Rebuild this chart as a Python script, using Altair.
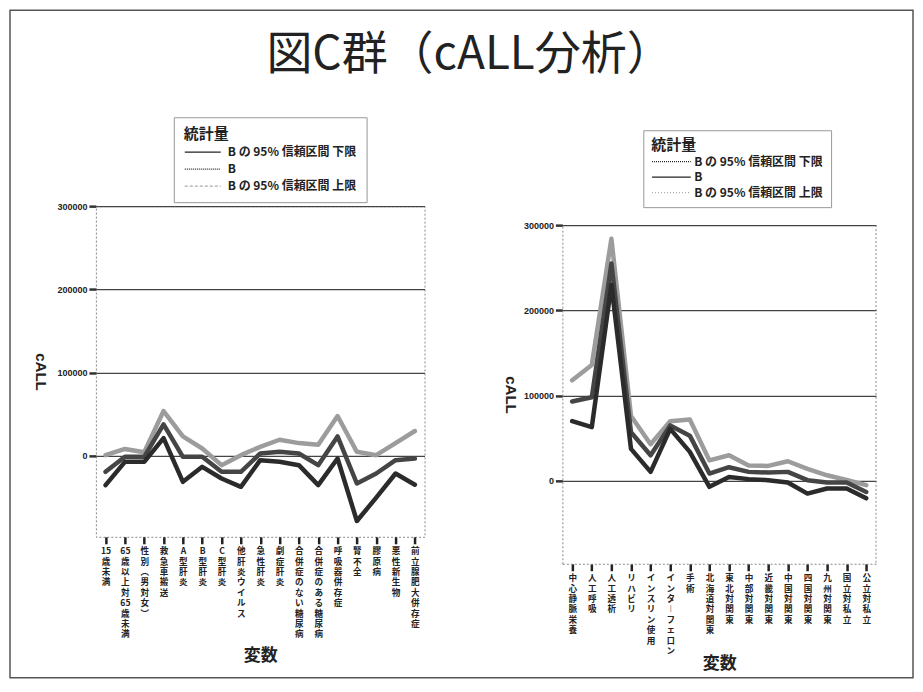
import altair as alt
import pandas as pd

TITLE = "図C群（cALL分析）"
LEGEND_TITLE = "統計量"
SERIES = ["B の 95% 信頼区間 下限", "B", "B の 95% 信頼区間 上限"]
X_TITLE = "変数"
Y_TITLE = "cALL"
Y_TICKS = [0, 100000, 200000, 300000]

L_CATS = ["15歳未満", "65歳以上対65歳未満", "性別(男対女)", "救急車搬送", "A型肝炎", "B型肝炎",
          "C型肝炎", "他肝炎ウイルス", "急性肝炎", "劇症肝炎", "合併症のない糖尿病",
          "合併症のある糖尿病", "呼吸器併存症", "腎不全", "膠原病", "悪性新生物", "前立腺肥大併存症"]
L_LOW = [-35000, -7000, -7000, 21500, -31000, -13000, -27000, -37000, -5000, -7000, -11000,
         -35000, -3000, -78000, -50000, -21000, -34500]
L_B = [-19000, -1000, -1000, 38000, -1000, -1000, -19000, -19000, 3000, 5000, 3000,
       -11000, 23500, -33000, -21000, -5000, -3000]
L_UP = [1000, 8500, 4500, 54000, 23500, 9000, -11000, 1000, 11000, 19500, 15500,
        13500, 48000, 5000, 1000, 15500, 30000]

R_CATS = ["中心静脈栄養", "人工呼吸", "人工透析", "リハビリ", "インスリン使用", "インターフェロン",
          "手術", "北海道対関東", "東北対関東", "中部対関東", "近畿対関東", "中国対関東",
          "四国対関東", "九州対関東", "国立対私立", "公立対私立"]
R_LOW = [70000, 63000, 230000, 37500, 10500, 61000, 34000, -7000, 4600, 2000, 800, -2000,
         -15000, -9000, -9000, -20500]
R_B = [93000, 98000, 255000, 57000, 30000, 65000, 53000, 8500, 16000, 10500, 9700, 10500,
       800, -2000, -2000, -13000]
R_UP = [118000, 136000, 284000, 76000, 43000, 70000, 72000, 24000, 30000, 18000, 17500, 23000,
        14000, 6500, 1000, -5000]

JP = "Noto Sans CJK JP"
NUM = "Liberation Sans"
LINE_COLORS = {SERIES[0]: "#2b2b2b", SERIES[1]: "#454545", SERIES[2]: "#9c9c9c"}

LABEL_EXPR = ("slice(split(replace(replace(replace(replace(datum.label, '(', '︵'), ')', '︶'), "
              "'ー', '︱'), regexp('([0-9]+|.)', 'g'), '$1|'), '|'), 0, -1)")


def table(cats, low, b, up):
    rows = []
    for s, vals in zip(SERIES, [low, b, up]):
        for c, v in zip(cats, vals):
            rows.append({"var": c, "series": s, "value": v})
    return pd.DataFrame(rows)


def x_enc(cats, domain_line, xtpad):
    return alt.X("var:N", sort=cats, scale=alt.Scale(type="point", padding=0.5),
                 axis=alt.Axis(title=X_TITLE, labelAngle=0, labelAlign="center", labelBaseline="top",
                               labelExpr=LABEL_EXPR, labelFont=JP, labelFontSize=8.6,
                               labelFontWeight="bold", labelColor="#222", labelLineHeight=10.4,
                               labelOverlap=False, labelPadding=3, tickSize=7, tickWidth=2.5,
                               tickColor="#222", domain=domain_line, domainColor="#888",
                               domainDash=[2, 2], titleFont=JP, titleFontSize=17,
                               titleFontWeight="bold", titleColor="#222", titlePadding=xtpad, grid=False))


def y_enc(scale, domain_line, tpad):
    return alt.Y("value:Q", scale=scale,
                 axis=alt.Axis(values=Y_TICKS, format="d", title=Y_TITLE, titleAngle=90, titleFont=NUM,
                               titleFontSize=15, titleFontWeight="bold", titleColor="#222",
                               titlePadding=tpad, labelFont=NUM, labelFontSize=9, labelFontWeight="bold",
                               labelColor="#222", labelPadding=2, tickSize=7, tickWidth=2.5,
                               tickColor="#333", domain=domain_line, domainColor="#888",
                               domainDash=[2, 2], grid=True, gridColor="#444", gridWidth=1.2,
                               gridOpacity=1))


def panel(cats, low, b, up, yscale, dash_range, lx, ly, sym_size, sym_path, label_off, pad,
          row_pad, domain_line, tpad, xtpad):
    df = table(cats, low, b, up)
    base = alt.Chart(df)
    layers = []
    for s in [SERIES[2], SERIES[1], SERIES[0]]:
        layers.append(base.transform_filter(alt.datum.series == s)
                      .mark_line(color=LINE_COLORS[s], strokeWidth=4.5, strokeJoin="round", strokeCap="round")
                      .encode(x=x_enc(cats, domain_line, xtpad), y=y_enc(yscale, domain_line, tpad)))
    leg = alt.Legend(title=LEGEND_TITLE, orient="none", legendX=lx, legendY=ly, direction="vertical",
                     symbolType=sym_path, symbolSize=sym_size, symbolStrokeWidth=1.2, symbolOpacity=1,
                     symbolFillColor="transparent",
                     labelFont=JP, labelFontSize=12, labelFontWeight="bold", labelColor="#222",
                     labelOffset=label_off, titleFont=JP, titleFontSize=15, titleFontWeight="bold",
                     titleColor="#222", titlePadding=0, strokeColor="#999", padding=pad,
                     rowPadding=row_pad, fillColor="white")
    legend_layer = base.mark_line(opacity=0, strokeWidth=1).encode(
        x=x_enc(cats, domain_line, xtpad), y=y_enc(yscale, domain_line, tpad),
        color=alt.Color("series:N", scale=alt.Scale(domain=SERIES, range=["#222", "#222", "#aaa"]), legend=leg),
        strokeDash=alt.StrokeDash("series:N", scale=alt.Scale(domain=SERIES, range=dash_range), legend=leg),
    )
    layers.append(legend_layer)
    return layers


left_layers = panel(L_CATS, L_LOW, L_B, L_UP,
                    alt.Scale(domain=[-97000, 300000], nice=False, zero=False),
                    [[1, 0], [1, 1], [3, 2]], 78, -89, 324, "M-1,0H3", 24, 10, 1, False, 24, 9)
frame = alt.Chart(alt.Data(values=[{"t": TITLE}])).mark_rect(
    fillOpacity=0, stroke="#555", strokeWidth=1.5, clip=False
).encode(x=alt.value(-86), x2=alt.value(818), y=alt.value(-196), y2=alt.value(472))
title = alt.Chart(alt.Data(values=[{"t": TITLE}])).mark_text(
    font=JP, fontSize=46, color="#222", align="center", baseline="middle"
).encode(text="t:N", x=alt.value(374), y=alt.value(-151))
left = alt.layer(frame, title, *left_layers).properties(width=329, height=331)

right_layers = panel(R_CATS, R_LOW, R_B, R_UP,
                     alt.Scale(domain=[-97300, 300000], nice=False, zero=False, range=[358, 19]),
                     [[1, 1], [1, 0], [1, 2]], 81, -76, 240, "M-1,0H4", 26, 8, 0.5, True, 21, 0)
border = alt.Chart(alt.Data(values=[{"t": ""}])).mark_rule(
    color="#888", strokeDash=[2, 2], strokeWidth=1
).encode(x=alt.value(314), y=alt.value(19), y2=alt.value(358))
right = alt.layer(*right_layers, border).properties(
    width=314, height=358, view=alt.ViewBackground(strokeOpacity=0))

chart = alt.hconcat(left, right, spacing=138, bounds="flush").resolve_scale(
    x="independent", y="independent", color="independent", strokeDash="independent"
).resolve_legend(color="independent", strokeDash="independent").properties(
    padding=0, background="white"
).configure_view(stroke="#888", strokeDash=[2, 2], strokeWidth=1)

chart.save("out.html", embed_options={"renderer": "svg", "actions": False})
